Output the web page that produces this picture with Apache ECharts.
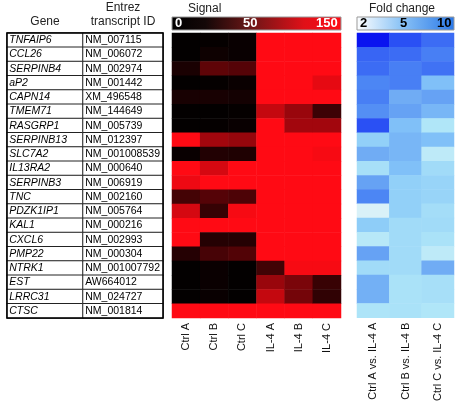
<!DOCTYPE html>
<html><head><meta charset="utf-8">
<script src="https://cdn.jsdelivr.net/npm/echarts@6/dist/echarts.min.js"></script>
<style>html,body{margin:0;padding:0;background:#fff}#c{width:461px;height:404px}</style>
</head><body><div id="c"></div>
<script>
const genes = ['TNFAIP6','CCL26','SERPINB4','aP2','CAPN14','TMEM71','RASGRP1','SERPINB13','SLC7A2','IL13RA2','SERPINB3','TNC','PDZK1IP1','KAL1','CXCL6','PMP22','NTRK1','EST','LRRC31','CTSC'];
const transcripts = ['NM_007115','NM_006072','NM_002974','NM_001442','XM_496548','NM_144649','NM_005739','NM_012397','NM_001008539','NM_000640','NM_006919','NM_002160','NM_005764','NM_000216','NM_002993','NM_000304','NM_001007792','AW664012','NM_024727','NM_001814'];
const geneHeader = ['Gene'];
const idHeader = ['Entrez\ntranscript ID'];
const signalSamples = ['Ctrl A','Ctrl B','Ctrl C','IL-4 A','IL-4 B','IL-4 C'];
const foldSamples = ['Ctrl A vs. IL-4 A','Ctrl B vs. IL-4 B','Ctrl C vs. IL-4 C'];
// signal values (saturated cells >= 150)
const ctrlA = [2,2,15,2,14,2,2,200,5,200,140,40,125,200,200,22,2,2,2,200];
const ctrlB = [3,8,55,3,14,2,3,95,20,125,200,50,32,200,22,42,6,6,5,200];
const ctrlC = [5,5,50,6,12,3,5,88,18,200,200,45,145,200,22,48,2,2,2,200];
const il4A  = [200,200,200,200,200,115,200,200,200,200,200,200,200,200,200,200,38,90,115,200];
const il4B  = [200,200,200,200,200,90,95,200,200,200,200,200,200,200,200,200,145,72,68,200];
const il4C  = [200,200,200,135,200,35,95,200,145,200,200,200,200,200,200,200,145,33,28,200];
// fold change values
const foldA = [15,10.5,10,8,8.5,7.5,12,4,6,3.3,6.5,8,2.4,4.2,2.9,6.5,3.5,5.8,5.8,3.1];
const foldB = [12,10,8.5,8.5,6,6.5,5,5.5,5.5,5,4,4,4,3.5,3.5,3.5,3.5,3.2,3.2,3.2];
const foldC = [10,8.5,9.5,5,6.5,5.5,3,5,2.8,3.5,3.8,3.8,3.4,3.5,3.2,2.8,6,3.3,3.3,3.0];

const FONT = 'Liberation Sans, Arial, sans-serif';
const signalCols = [ctrlA, ctrlB, ctrlC, il4A, il4B, il4C];
const foldCols = [foldA, foldB, foldC];
const sigData = [], foldData = [], geneData = [], idData = [];
signalCols.forEach((col, x) => col.forEach((v, y) => sigData.push([x, y, v])));
foldCols.forEach((col, x) => col.forEach((v, y) => foldData.push([x, y, v])));
genes.forEach((g, y) => { geneData.push([0, y, 0]); idData.push([0, y, 0]); });

const chart = echarts.init(document.getElementById('c'), null, {renderer: 'canvas'});
const yCat = (gi) => ({type: 'category', gridIndex: gi, data: genes, inverse: true, show: false});
const headerAxis = (gi, data) => ({type: 'category', gridIndex: gi, data: data, position: 'top',
     axisLine: {show: false}, axisTick: {show: false},
     axisLabel: {interval: 0, margin: 4, fontSize: 12, color: '#222', lineHeight: 14, fontFamily: FONT}});
const sampleAxis = (gi, data) => ({type: 'category', gridIndex: gi, data: data, position: 'bottom',
     axisLine: {show: false}, axisTick: {show: false},
     axisLabel: {interval: 0, rotate: 90, margin: 5, fontSize: 11, color: '#111', fontFamily: FONT}});
chart.setOption({
  animation: false,
  textStyle: {fontFamily: FONT},
  grid: [
    {left: 7, top: 33, width: 76, height: 285},
    {left: 83, top: 33, width: 80, height: 285},
    {left: 172, top: 33, width: 169, height: 285},
    {left: 357, top: 33, width: 97, height: 285}
  ],
  xAxis: [headerAxis(0, geneHeader), headerAxis(1, idHeader), sampleAxis(2, signalSamples), sampleAxis(3, foldSamples)],
  yAxis: [yCat(0), yCat(1), yCat(2), yCat(3)],
  visualMap: [
    {type: 'continuous', show: false, seriesIndex: [0, 1], min: 0, max: 1,
     inRange: {color: ['#ffffff', '#ffffff']}},
    {type: 'continuous', show: false, seriesIndex: 2, min: 0, max: 150,
     inRange: {color: ['#000000', '#ff0a14']}, outOfRange: {color: '#ff0a14'}},
    {type: 'continuous', show: false, seriesIndex: 3, min: 2, max: 15,
     inRange: {color: ['#f4f8f8','#b0e6f8','#92d0f8','#80c0f8','#70acf4','#5c98f4','#4c86f4','#4478f4','#3c6cf4','#345ef4','#2a50f4','#2040f4','#142af2','#0a14f0']},
     outOfRange: {color: '#0a14f0'}}
  ],
  series: [
    {type: 'heatmap', xAxisIndex: 0, yAxisIndex: 0, data: geneData,
     itemStyle: {borderColor: '#222', borderWidth: 1},
     label: {show: true, position: 'insideLeft', distance: 3, fontStyle: 'italic', fontSize: 10.5, color: '#000', fontFamily: FONT,
             formatter: p => genes[p.data[1]]}},
    {type: 'heatmap', xAxisIndex: 1, yAxisIndex: 1, data: idData,
     itemStyle: {borderColor: '#222', borderWidth: 1},
     label: {show: true, position: 'insideLeft', distance: 3, fontSize: 10.5, color: '#000', fontFamily: FONT,
             formatter: p => transcripts[p.data[1]]}},
    {type: 'heatmap', xAxisIndex: 2, yAxisIndex: 2, data: sigData},
    {type: 'heatmap', xAxisIndex: 3, yAxisIndex: 3, data: foldData}
  ],
  graphic: [
    {type: 'rect', z: 100, shape: {x: 7, y: 33, width: 156, height: 285},
     style: {fill: null, stroke: '#000', lineWidth: 1.5}},
    {type: 'text', left: 188, top: 3, style: {text: 'Signal', fontSize: 12, fill: '#222', fontFamily: FONT}},
    {type: 'rect', shape: {x: 172, y: 17, width: 169, height: 13},
     style: {stroke: '#999', lineWidth: 1,
       fill: new echarts.graphic.LinearGradient(0, 0, 1, 0, [
         {offset: 0, color: '#000000'}, {offset: 0.2, color: '#140808'},
         {offset: 0.46, color: '#6a1616'}, {offset: 0.78, color: '#e01018'},
         {offset: 1, color: '#ff0a14'}])}},
    {type: 'text', left: 175, top: 17, z: 10, style: {text: '0', fontSize: 13, fontWeight: 'bold', fill: '#fff', fontFamily: FONT}},
    {type: 'text', left: 243, top: 17, z: 10, style: {text: '50', fontSize: 13, fontWeight: 'bold', fill: '#fff', fontFamily: FONT}},
    {type: 'text', left: 316, top: 17, z: 10, style: {text: '150', fontSize: 13, fontWeight: 'bold', fill: '#fff', fontFamily: FONT}},
    {type: 'text', left: 369, top: 3, style: {text: 'Fold change', fontSize: 12, fill: '#222', fontFamily: FONT}},
    {type: 'rect', shape: {x: 357, y: 17, width: 97, height: 13},
     style: {stroke: '#999', lineWidth: 1,
       fill: new echarts.graphic.LinearGradient(0, 0, 1, 0, [
         {offset: 0, color: '#ffffff'}, {offset: 0.45, color: '#8cc4f6'},
         {offset: 1, color: '#2a78e8'}])}},
    {type: 'text', left: 360, top: 17, z: 10, style: {text: '2', fontSize: 13, fontWeight: 'bold', fill: '#000', fontFamily: FONT}},
    {type: 'text', left: 400, top: 17, z: 10, style: {text: '5', fontSize: 13, fontWeight: 'bold', fill: '#000', fontFamily: FONT}},
    {type: 'text', left: 437, top: 17, z: 10, style: {text: '10', fontSize: 13, fontWeight: 'bold', fill: '#000', fontFamily: FONT}}
  ]
});
</script></body></html>
